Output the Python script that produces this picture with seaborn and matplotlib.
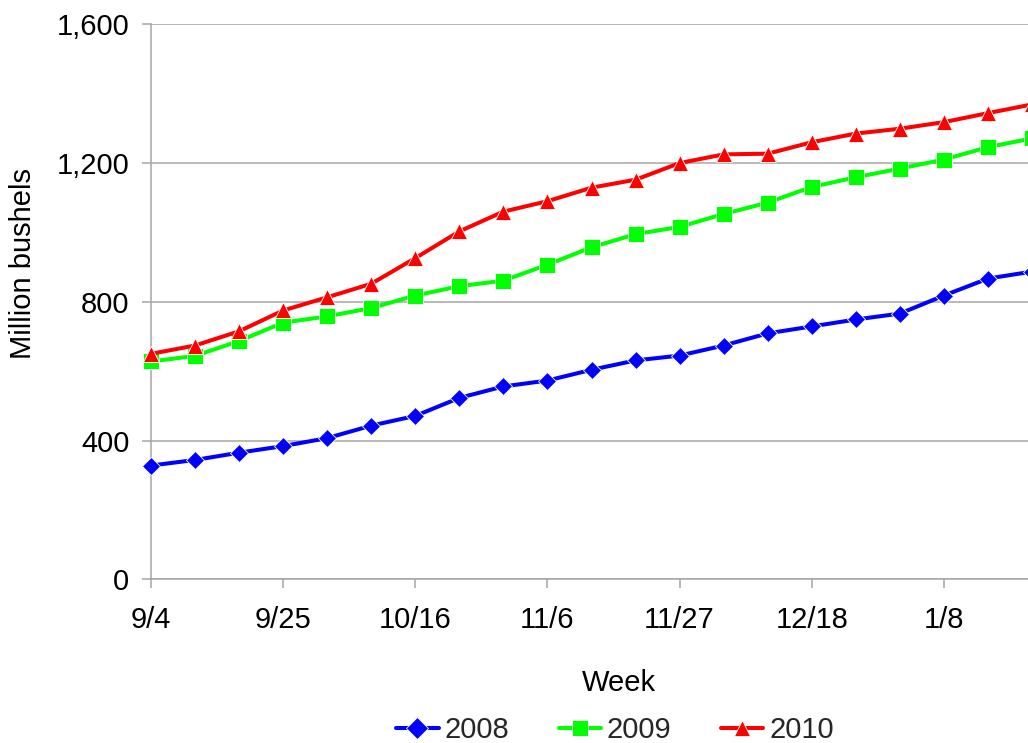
import matplotlib
matplotlib.use("Agg")
import matplotlib.pyplot as plt
from matplotlib.ticker import FuncFormatter
import numpy as np
import pandas as pd
import seaborn as sns

# Weekly dates (Sept 4 through Jan 22)
weeks = ["9/4", "9/11", "9/18", "9/25", "10/2", "10/9", "10/16", "10/23", "10/30",
         "11/6", "11/13", "11/20", "11/27", "12/4", "12/11", "12/18", "12/25",
         "1/1", "1/8", "1/15", "1/22"]

# Cumulative totals, million bushels
y2008 = [328, 344, 365, 384, 407, 443, 471, 523, 556, 573, 604, 631, 645, 674,
         709, 729, 749, 766, 818, 867, 887]
y2009 = [628, 644, 687, 740, 758, 782, 818, 845, 861, 907, 957, 995, 1016, 1053,
         1086, 1131, 1159, 1184, 1210, 1246, 1271]
y2010 = [650, 674, 715, 775, 813, 852, 926, 1003, 1060, 1090, 1129, 1152, 1200,
         1225, 1227, 1260, 1285, 1299, 1318, 1344, 1369]

series_names = ["2008", "2009", "2010"]
series_colors = ["#0000FF", "#00FF00", "#FF0000"]
series_markers = ["D", "s", "^"]

tick_weeks = ["9/4", "9/25", "10/16", "11/6", "11/27", "12/18", "1/8"]
y_ticks = [0, 400, 800, 1200, 1600]

frames = []
for name, vals in zip(series_names, [y2008, y2009, y2010]):
    frames.append(pd.DataFrame({"week": np.arange(len(weeks)), "value": vals, "year": name}))
df = pd.concat(frames, ignore_index=True)

sns.set_theme(style="white")
plt.rcParams["font.family"] = ["Liberation Sans", "DejaVu Sans"]

FS = 21
W, H = 1028, 743
fig = plt.figure(figsize=(W / 100, H / 100), dpi=100)
ax = fig.add_axes([151 / W, 1 - 579.3 / H, (1032 - 151) / W, (579.3 - 24.3) / H])

sns.lineplot(data=df, x="week", y="value", hue="year", style="year",
             hue_order=series_names, style_order=series_names,
             palette=series_colors, markers=series_markers, dashes=False,
             linewidth=2.9, markersize=11, markeredgewidth=0.6, ax=ax,
             legend=True)

# Per-series marker sizes; let end markers overhang the axes edge
sizes = {"2008": 9.5, "2009": 11.5, "2010": 12}
for line, name in zip(ax.lines[:3], series_names):
    line.set_markersize(sizes[name])
    line.set_clip_on(False)
    line.set_zorder(3)

ax.set_xlim(0, len(weeks) - 1)
ax.set_ylim(0, 1600)
ax.set_yticks(y_ticks)
ax.yaxis.set_major_formatter(FuncFormatter(lambda v, p: f"{v:,.0f}"))
ax.set_xticks([weeks.index(w) for w in tick_weeks])
ax.set_xticklabels(tick_weeks)

grid_gray = "#A6A6A6"
ax.yaxis.grid(True, color=grid_gray, linewidth=1.1)
ax.xaxis.grid(False)
ax.set_axisbelow(True)
for side in ["top", "right"]:
    ax.spines[side].set_visible(False)
for side in ["left", "bottom"]:
    ax.spines[side].set_color(grid_gray)
    ax.spines[side].set_linewidth(1.1)
    ax.spines[side].set_zorder(1)

ax.tick_params(axis="both", which="major", direction="out", length=6.5,
               width=1.1, color=grid_gray, labelsize=FS, labelcolor="black")
ax.tick_params(axis="y", pad=9)
ax.tick_params(axis="x", pad=13)
ax.tick_params(left=True, bottom=True)

ax.set_xlabel("Week", fontsize=FS, color="black")
ax.set_ylabel("Million bushels", fontsize=FS, color="black")
ax.xaxis.label.set_verticalalignment("center")
ax.yaxis.label.set_verticalalignment("center")
ax.xaxis.set_label_coords((619 - 151) / 881, (579.3 - 683) / 555)
ax.yaxis.set_label_coords((23 - 151) / 881, (579.3 - 264) / 555)

handles, labels = ax.get_legend_handles_labels()
ax.get_legend().remove()
fig.legend(handles, labels, loc="center", bbox_to_anchor=(615 / W, 1 - 730 / H),
           ncol=3, frameon=False, fontsize=FS, handlelength=1.45,
           handletextpad=0.2, columnspacing=1.7, borderpad=0)

fig.savefig("out.png", dpi=100)
